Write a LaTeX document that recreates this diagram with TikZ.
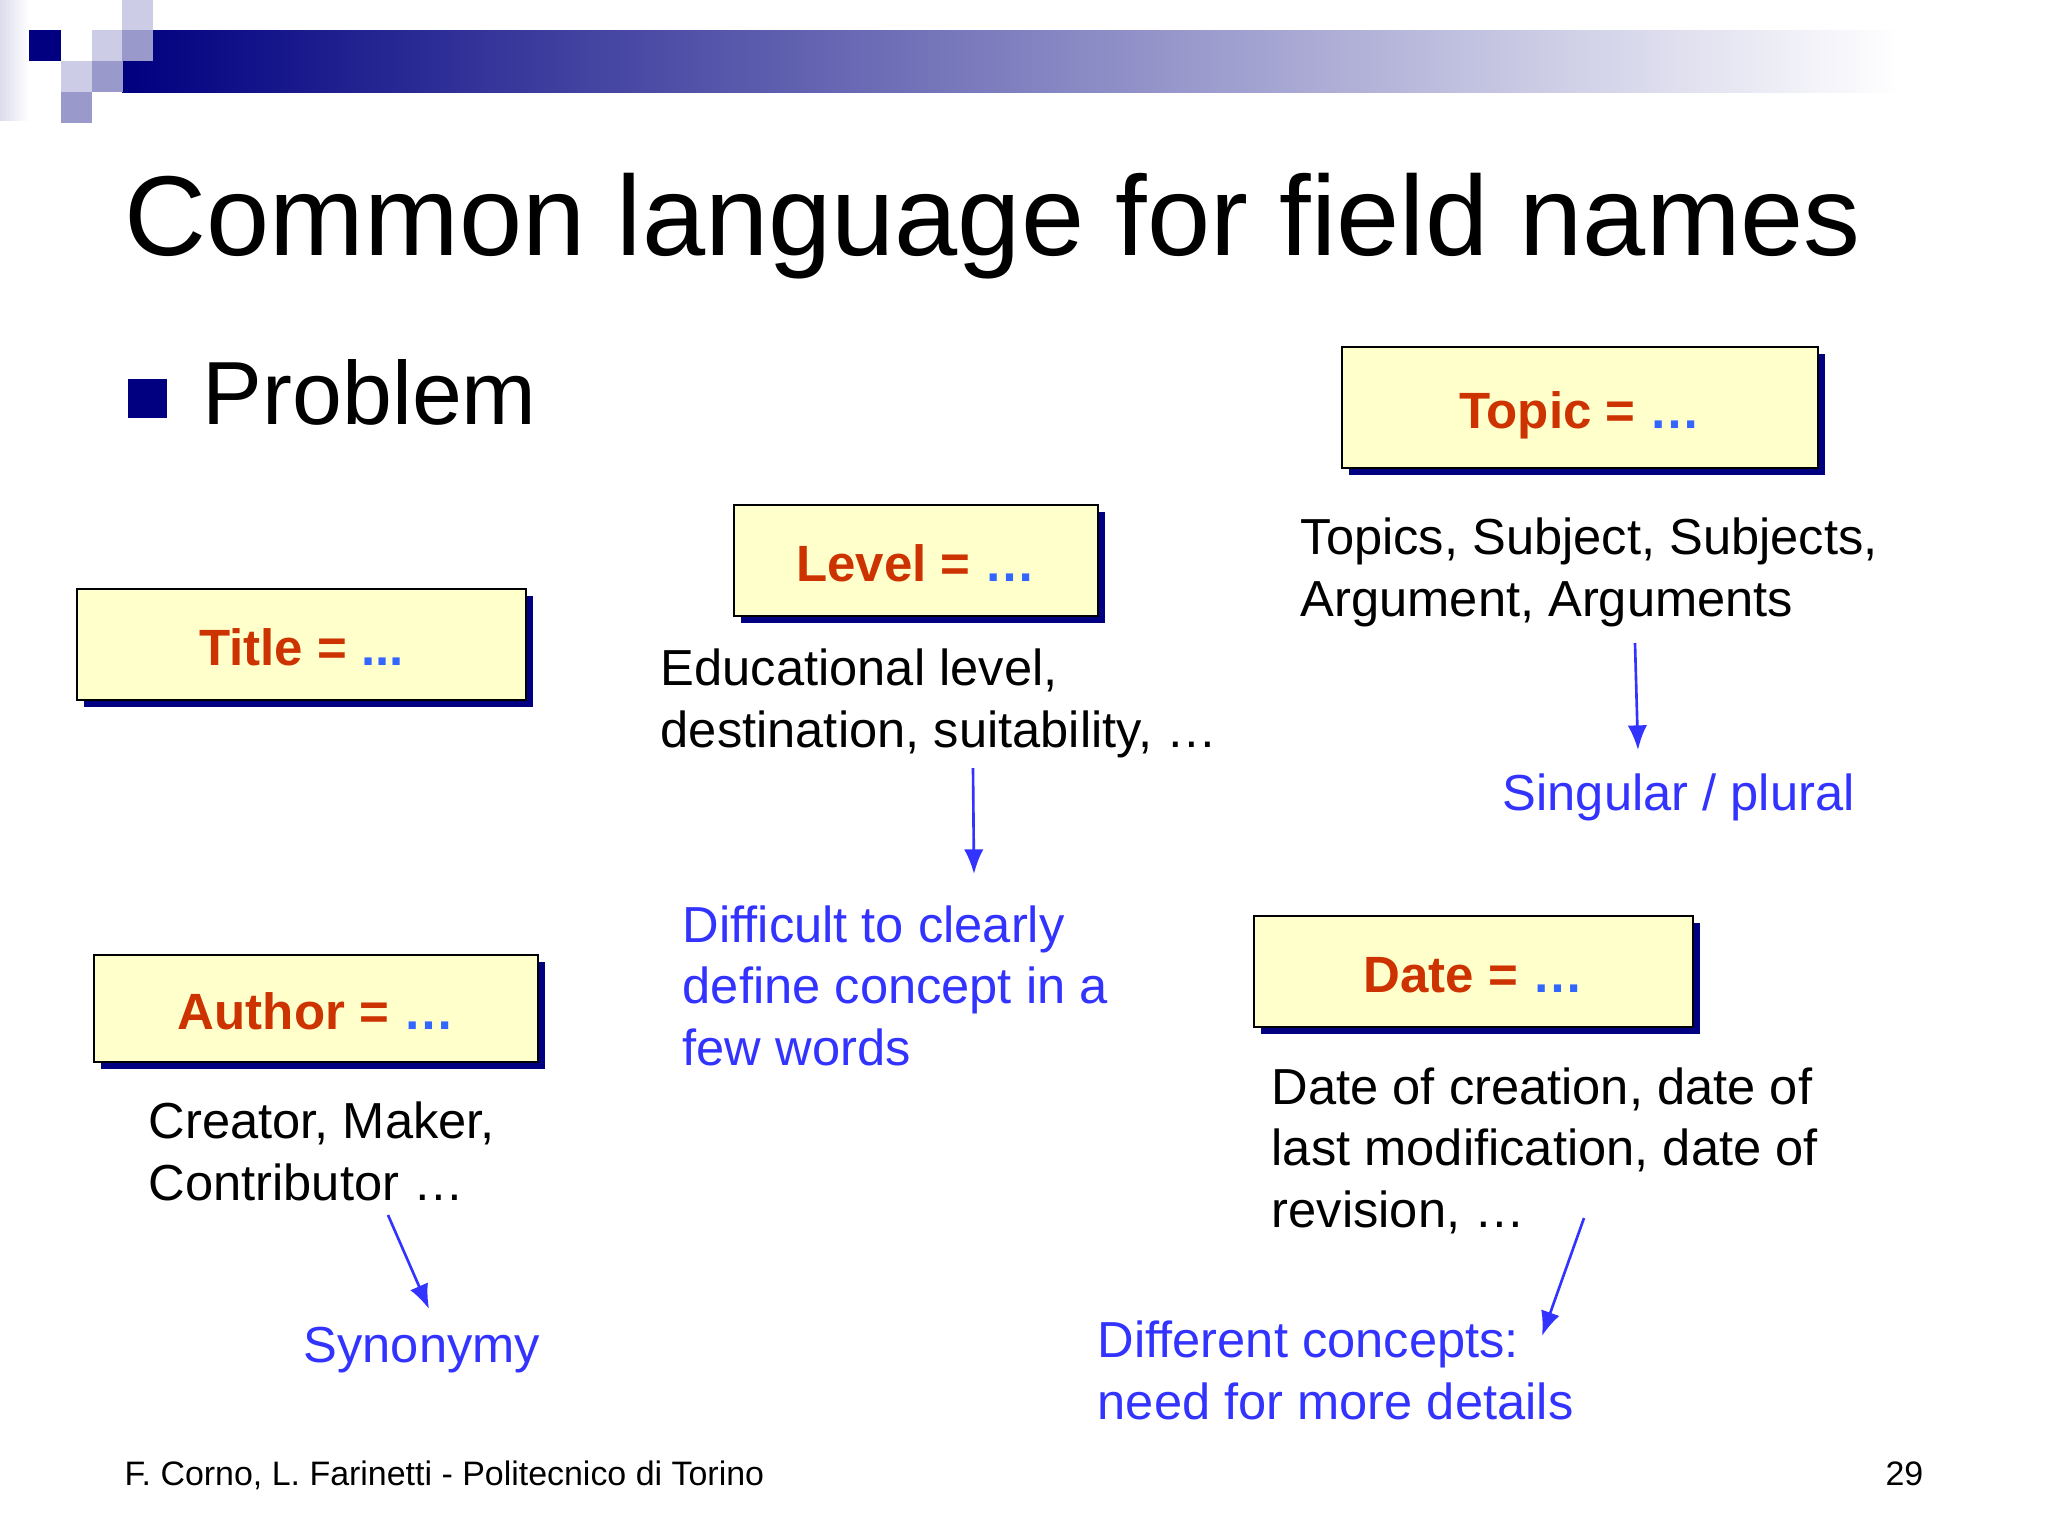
\documentclass[tikz,border=0pt]{standalone}
\usepackage{fontspec}
\setmainfont{Liberation Sans}
\usetikzlibrary{arrows.meta}
\usetikzlibrary{shadows}
\definecolor{navy}{RGB}{0,0,128}
\definecolor{boxfill}{RGB}{255,255,204}
\definecolor{fieldred}{RGB}{204,51,0}
\definecolor{dotblue}{RGB}{51,102,255}
\definecolor{noteblue}{RGB}{51,51,255}
\definecolor{lavlight}{RGB}{204,204,230}
\definecolor{lavmid}{RGB}{153,153,204}
\begin{document}
\begin{tikzpicture}[x=0.01cm,y=-0.01cm,
 field/.style={draw=black, line width=0.6pt, fill=boxfill, minimum height=1.11cm, inner sep=0pt, text height=12pt, text depth=0pt, font=\fontsize{14.5}{17}\selectfont\bfseries, text=fieldred, general shadow={fill=navy, shadow xshift=0.07cm, shadow yshift=-0.07cm}},
 body/.style={anchor=base west, inner sep=0pt, align=left, font=\fontsize{14.4}{17.4}\selectfont},
 note/.style={body, text=noteblue},
 hint/.style={-{Latex[length=7pt,width=5.5pt]}, noteblue, line width=0.75pt}]
\useasboundingbox[fill=white] (0,0) rectangle (2048,1536);

\shade[left color=lavlight!70, right color=white] (0,0) rectangle (29,120);
\shade[left color=navy, middle color=navy!45, right color=white] (122,30) rectangle (1900,92);
\fill[navy] (29,30) rectangle ++(32,31);
\foreach \x/\y in {92/30,122/0,61/61} {
 \fill[lavlight] (\x,\y) rectangle ++(31,31);
}
\foreach \x/\y in {122/30,92/61,61/92} {
 \fill[lavmid] (\x,\y) rectangle ++(31,31);
}

\node[anchor=base west, inner sep=0pt, font=\fontsize{32.3}{39}\selectfont] (heading) at (124,255) {Common language for field names};
\fill[navy] (128,379) rectangle (167,418);
\node[anchor=base west, inner sep=0pt, font=\fontsize{25.5}{30}\selectfont] (problem) at (202,424) {Problem};

\node[field, minimum width=4.49cm] (title) at (301.5,644.5) {Title = \textcolor{dotblue}{...}};
\node[field, minimum width=3.64cm] (level) at (916,560.5) {Level = \textcolor{dotblue}{…}};
\node[field, minimum width=4.76cm, minimum height=1.21cm] (topic) at (1580,407.5) {Topic = \textcolor{dotblue}{…}};
\node[field, minimum width=4.44cm, minimum height=1.07cm] (author) at (316,1008.5) {Author = \textcolor{dotblue}{…}};
\node[field, minimum width=4.39cm] (date) at (1473.5,971.5) {Date = \textcolor{dotblue}{…}};

% base of a multi-line node is its last line
\node[body] (topicsyn) at (1300,616) {Topics, Subject, Subjects,\\Argument, Arguments};
\node[body] (levelsyn) at (660,747) {Educational level,\\destination, suitability, …};
\node[body] (authorsyn) at (148,1200) {Creator, Maker,\\Contributor …};
\node[body] (datesyn) at (1271,1227) {Date of creation, date of\\last modification, date of\\revision, …};

\node[note] (plural) at (1502,810) {Singular / plural};
\node[note] (vague) at (682,1065) {Difficult to clearly\\define concept in a\\few words};
\node[note] (synonym) at (303,1362) {Synonymy};
\node[note] (concepts) at (1097,1419) {Different concepts:\\need for more details};

\coordinate (topicsyn-out) at (1635,643);
\coordinate (plural-in) at (1638,750);
\coordinate (levelsyn-out) at (973,768);
\coordinate (vague-in) at (974,874);
\coordinate (authorsyn-out) at (388,1215);
\coordinate (synonym-in) at (429,1309);
\coordinate (datesyn-out) at (1584,1218);
\coordinate (concepts-in) at (1542,1336);
\draw[hint] (topicsyn-out) -- (plural-in);
\draw[hint] (levelsyn-out) -- (vague-in);
\draw[hint] (authorsyn-out) -- (synonym-in);
\draw[hint] (datesyn-out) -- (concepts-in);

\node[anchor=base west, inner sep=0pt, font=\fontsize{9.65}{11}\selectfont] (credits) at (124,1485) {F. Corno, L. Farinetti - Politecnico di Torino};
\node[anchor=base east, inner sep=0pt, font=\fontsize{9.65}{11}\selectfont] (pagenum) at (1924,1485) {29};
\end{tikzpicture}
\end{document}
